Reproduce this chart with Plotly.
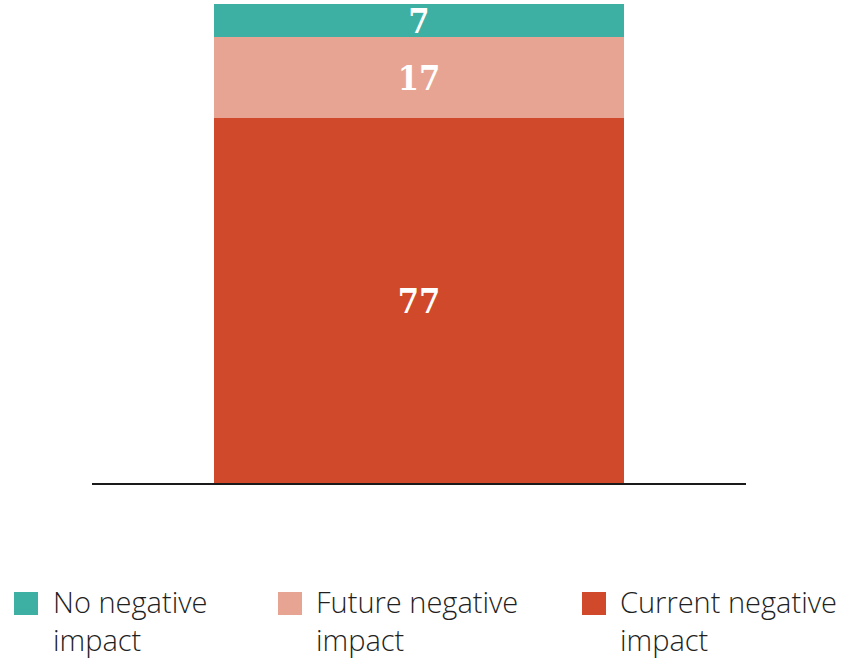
import plotly.graph_objects as go

categories = [""]
series_names = ["Current negative impact", "Future negative impact", "No negative impact"]
series_values = [[77], [17], [7]]
series_colors = ["#D0492A", "#E7A493", "#3EAFA3"]

fig = go.Figure()
for name, vals, col in zip(series_names, series_values, series_colors):
    fig.add_trace(go.Bar(
        x=categories, y=vals, name=name, marker=dict(color=col, line=dict(width=0)),
        width=0.628, text=[str(v) for v in vals], textposition="inside",
        insidetextanchor="middle", constraintext="none", textangle=0,
        textfont=dict(family="DejaVu Serif Condensed, Roboto", size=34, color="white", weight="bold"),
        showlegend=False, hoverinfo="skip",
    ))

L, R, T, B = 92, 104, 4, 175
W, H = 850, 658
pw, ph = W - L - R, H - T - B

def px(x):
    return (x - L) / pw

def py(y):
    return (H - B - y) / ph

shapes = []
annotations = []
legend_items = [
    ("No negative<br>impact", series_colors[2], 14, 51),
    ("Future negative<br>impact", series_colors[1], 278, 314),
    ("Current negative<br>impact", series_colors[0], 582, 618),
]
for label, col, sx, tx in legend_items:
    shapes.append(dict(type="rect", xref="paper", yref="paper",
                       x0=px(sx), x1=px(sx + 24), y0=py(615), y1=py(592),
                       fillcolor=col, line=dict(width=0)))
    annotations.append(dict(xref="paper", yref="paper", x=px(tx), y=py(580),
                            xanchor="left", yanchor="top", align="left",
                            text=label, showarrow=False,
                            font=dict(family="Open Sans", size=29, color="#1f1f1f", weight=300)))

fig.update_layout(
    barmode="stack", width=W, height=H,
    margin=dict(l=L, r=R, t=T, b=B, pad=0),
    plot_bgcolor="white", paper_bgcolor="white",
    xaxis=dict(range=[-0.5, 0.5], showline=True, linecolor="#1a1a1a", linewidth=2,
               showticklabels=False, ticks="", showgrid=False, zeroline=False, fixedrange=True),
    yaxis=dict(range=[0, 101], visible=False, showgrid=False, zeroline=False, fixedrange=True),
    shapes=shapes, annotations=annotations, bargap=0,
)
fig.write_html("out.html", config={"displayModeBar": False},
               post_script="document.body.style.margin='0';document.body.style.overflow='hidden';")
